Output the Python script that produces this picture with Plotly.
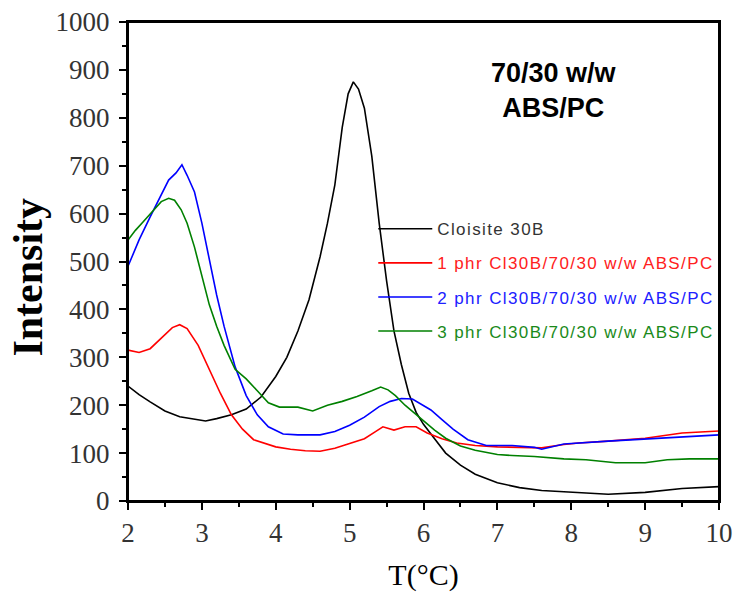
import plotly.graph_objects as go

# ---------------- data ----------------
series_names = [
    "Cloisite 30B",
    "1 phr Cl30B/70/30 w/w ABS/PC",
    "2 phr Cl30B/70/30 w/w ABS/PC",
    "3 phr Cl30B/70/30 w/w ABS/PC",
]

x_black = [2.0, 2.15, 2.3, 2.5, 2.7, 2.9, 3.05, 3.2, 3.4, 3.6, 3.8, 4.0, 4.15, 4.3, 4.45, 4.6, 4.7, 4.8,
           4.9, 4.98, 5.05, 5.12, 5.2, 5.3, 5.4, 5.5, 5.6, 5.7, 5.8, 5.9, 6.0, 6.15, 6.3, 6.5, 6.7,
           7.0, 7.3, 7.6, 8.0, 8.5, 9.0, 9.5, 10.0]
y_black = [240, 222, 207, 188, 176, 170, 167, 172, 180, 192, 217, 260, 300, 355, 420, 510, 580, 660,
           780, 850, 875, 860, 820, 720, 580, 460, 355, 285, 225, 185, 160, 130, 100, 75, 56,
           38, 28, 22, 18, 14, 18, 26, 30]

x_red = [2.0, 2.15, 2.3, 2.45, 2.6, 2.7, 2.8, 2.95, 3.1, 3.25, 3.4, 3.55, 3.7, 3.85, 4.0, 4.2, 4.4,
         4.6, 4.8, 5.0, 5.2, 5.35, 5.45, 5.6, 5.75, 5.9, 6.05, 6.25, 6.45, 6.7, 7.0, 7.3, 7.6, 7.9,
         8.1, 8.5, 9.0, 9.5, 10.0]
y_red = [315, 310, 318, 340, 362, 368, 360, 325, 275, 225, 180, 150, 128, 120, 113, 108, 105,
         104, 110, 120, 130, 145, 155, 148, 155, 155, 142, 130, 121, 116, 113, 112, 111, 118,
         121, 125, 131, 142, 146]

x_blue = [2.0, 2.15, 2.3, 2.45, 2.55, 2.65, 2.73, 2.8, 2.9, 3.0, 3.1, 3.2, 3.3, 3.45, 3.6, 3.75, 3.9,
          4.1, 4.3, 4.6, 4.8, 5.0, 5.2, 5.4, 5.55, 5.7, 5.85, 6.0, 6.1, 6.25, 6.4, 6.6, 6.85, 7.2,
          7.5, 7.6, 7.9, 8.5, 9.0, 9.5, 10.0]
y_blue = [490, 545, 593, 640, 670, 685, 702, 680, 645, 580, 505, 430, 365, 280, 220, 180, 155,
          140, 138, 138, 145, 158, 175, 197, 208, 214, 213, 200, 190, 170, 150, 128, 116, 116,
          112, 108, 119, 125, 129, 134, 138]

x_green = [2.0, 2.1, 2.2, 2.34, 2.45, 2.55, 2.63, 2.72, 2.8, 2.9, 3.0, 3.1, 3.2, 3.3, 3.45, 3.6, 3.75,
           3.9, 4.05, 4.3, 4.5, 4.7, 4.9, 5.1, 5.3, 5.42, 5.52, 5.62, 5.75, 5.9, 6.0, 6.15, 6.3,
           6.5, 6.7, 7.0, 7.2, 7.5, 7.9, 8.2, 8.6, 9.0, 9.3, 9.6, 10.0]
y_green = [545, 565, 582, 607, 625, 632, 628, 608, 580, 530, 470, 410, 365, 325, 275, 255, 230,
           205, 196, 196, 188, 200, 208, 218, 230, 238, 232, 220, 200, 180, 168, 148, 131,
           115, 106, 97, 95, 93, 88, 86, 80, 80, 86, 88, 88]

x_ticks = [2, 3, 4, 5, 6, 7, 8, 9, 10]
y_ticks = [0, 100, 200, 300, 400, 500, 600, 700, 800, 900, 1000]

colors = ["#000000", "#ff0000", "#0000ff", "#008000"]
text_colors = ["#333333", "#ff2020", "#2020ff", "#1a8a1a"]

xs = [x_black, x_red, x_blue, x_green]
ys = [y_black, y_red, y_blue, y_green]

fig = go.Figure()
for i in range(4):
    fig.add_trace(go.Scatter(
        x=xs[i], y=ys[i], mode="lines",
        line=dict(color=colors[i], width=1.6),
        name=f"<span style='color:{text_colors[i]};letter-spacing:1.4px'>{series_names[i]}</span>",
        legendgroup=f"g{i}",
    ))

fig.update_layout(
    width=736, height=593,
    margin=dict(l=128, r=17, t=22, b=92),
    paper_bgcolor="white", plot_bgcolor="white",
    showlegend=True,
    legend=dict(
        x=0.415, y=0.605, xanchor="left", yanchor="top",
        bgcolor="rgba(0,0,0,0)",
        font=dict(family="Arial, Liberation Sans, sans-serif", size=17, color="#333"),
        tracegroupgap=9,
        itemwidth=54,
    ),
    annotations=[dict(
        x=0.72, y=0.858, xref="paper", yref="paper",
        xanchor="center", yanchor="middle",
        text="<b>70/30 w/w<br>ABS/PC</b>", showarrow=False,
        font=dict(family="Arial, Liberation Sans, sans-serif", size=27, color="#000"),
        align="center",
    )],
    # plot frame (box around the plotting area)
    shapes=[dict(type="rect", xref="paper", yref="paper", x0=0, x1=1, y0=0, y1=1,
                 line=dict(color="#000", width=2), fillcolor="rgba(0,0,0,0)", layer="above")],
)

fig.update_xaxes(
    range=[2, 10], tickvals=x_ticks, ticktext=[str(v) for v in x_ticks],
    automargin=False, ticklabeloverflow="allow",
    ticks="outside", ticklen=7, tickwidth=2, tickcolor="#000",
    minor=dict(dtick=0.5, ticks="outside", ticklen=4, tickwidth=2, tickcolor="#000"),
    showline=True, linewidth=2, linecolor="#000", mirror=True,
    showgrid=False, zeroline=False,
    tickfont=dict(family="Liberation Serif, Times New Roman, serif", size=27, color="#333"),
    title=dict(text="T(°C)", font=dict(family="Liberation Serif, Times New Roman, serif", size=30, color="#000"), standoff=17),
)
fig.update_yaxes(
    range=[0, 1000], tickvals=y_ticks, ticktext=[str(v) for v in y_ticks],
    automargin=False, ticklabeloverflow="allow",
    ticks="outside", ticklen=7, tickwidth=2, tickcolor="#000",
    minor=dict(dtick=50, ticks="outside", ticklen=4, tickwidth=2, tickcolor="#000"),
    showline=True, linewidth=2, linecolor="#000", mirror=True,
    showgrid=False, zeroline=False,
    ticklabelstandoff=4,
    tickfont=dict(family="Liberation Serif, Times New Roman, serif", size=27, color="#333"),
    title=dict(text="<b>Intensity</b>&nbsp;&nbsp;&nbsp;", font=dict(family="Liberation Serif, Times New Roman, serif", size=42, color="#000"), standoff=0),
)

# remove the browser's default 8px page margin so the figure fills the window exactly
fig.write_html("out.html", config={"displayModeBar": False},
               post_script="document.body.style.margin='0';document.body.style.overflow='hidden';")
